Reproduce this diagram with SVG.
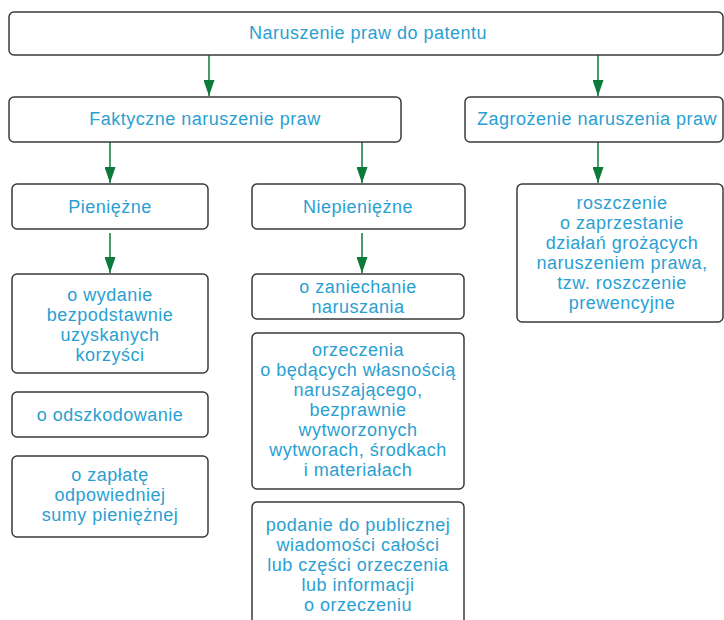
<svg xmlns="http://www.w3.org/2000/svg" width="724" height="620" viewBox="0 0 724 620">
<defs>
<style>
.box{fill:#fff;stroke:#3a3a3a;stroke-width:1.5}
.t{font-family:"Liberation Sans",Arial,sans-serif;font-size:18px;letter-spacing:0.5px;fill:#2a9fd2;text-anchor:middle}
.c{stroke:#0b7a3b;stroke-width:1.5;fill:none;marker-end:url(#ah)}
</style>
<marker id="ah" viewBox="0 0 16 11" refX="16" refY="5.5" markerWidth="16" markerHeight="11" markerUnits="userSpaceOnUse" orient="auto">
<path d="M0,0 L16,5.5 L0,11 z" fill="#0b7a3b"/>
</marker>
</defs>
<rect width="724" height="620" fill="#fff"/>
<g id="connectors">
<line class="c" x1="209" y1="55" x2="209" y2="96"/>
<line class="c" x1="598" y1="55" x2="598" y2="96"/>
<line class="c" x1="110" y1="142" x2="110" y2="183"/>
<line class="c" x1="362" y1="142" x2="362" y2="183"/>
<line class="c" x1="598" y1="142" x2="598" y2="183"/>
<line class="c" x1="110" y1="233" x2="110" y2="273"/>
<line class="c" x1="362" y1="233" x2="362" y2="273"/>
</g>
<g id="n-root">
<rect class="box" x="9" y="12" width="714" height="43" rx="5"/>
<text class="t" x="368" y="39">Naruszenie praw do patentu</text>
</g>
<g id="n-faktyczne">
<rect class="box" x="9" y="97" width="392" height="45" rx="5"/>
<text class="t" x="205" y="125">Faktyczne naruszenie praw</text>
</g>
<g id="n-zagrozenie">
<rect class="box" x="465" y="97" width="258" height="45" rx="5"/>
<text class="t" x="597" y="125">Zagrożenie naruszenia praw</text>
</g>
<g id="n-pieniezne">
<rect class="box" x="12" y="184" width="196" height="45" rx="5"/>
<text class="t" x="110" y="213">Pieniężne</text>
</g>
<g id="n-niepieniezne">
<rect class="box" x="252" y="184" width="213" height="45" rx="5"/>
<text class="t" x="358" y="213">Niepieniężne</text>
</g>
<g id="n-roszczenie">
<rect class="box" x="517" y="184" width="206" height="138" rx="5"/>
<text class="t" x="622" y="209">roszczenie</text>
<text class="t" x="622" y="229">o zaprzestanie</text>
<text class="t" x="622" y="249">działań grożących</text>
<text class="t" x="622" y="269">naruszeniem prawa,</text>
<text class="t" x="622" y="289">tzw. roszczenie</text>
<text class="t" x="622" y="309">prewencyjne</text>
</g>
<g id="n-wydanie">
<rect class="box" x="12" y="274" width="196" height="99" rx="5"/>
<text class="t" x="110" y="301">o wydanie</text>
<text class="t" x="110" y="321">bezpodstawnie</text>
<text class="t" x="110" y="341">uzyskanych</text>
<text class="t" x="110" y="361">korzyści</text>
</g>
<g id="n-odszkodowanie">
<rect class="box" x="12" y="392" width="196" height="45" rx="5"/>
<text class="t" x="110" y="421">o odszkodowanie</text>
</g>
<g id="n-zaplate">
<rect class="box" x="12" y="456" width="196" height="81" rx="5"/>
<text class="t" x="110" y="481">o zapłatę</text>
<text class="t" x="110" y="501">odpowiedniej</text>
<text class="t" x="110" y="521">sumy pieniężnej</text>
</g>
<g id="n-zaniechanie">
<rect class="box" x="252" y="274" width="212" height="45" rx="5"/>
<text class="t" x="358" y="293">o zaniechanie</text>
<text class="t" x="358" y="313">naruszania</text>
</g>
<g id="n-orzeczenia">
<rect class="box" x="252" y="333" width="212" height="156" rx="5"/>
<text class="t" x="358" y="356">orzeczenia</text>
<text class="t" x="358" y="376">o będących własnością</text>
<text class="t" x="358" y="396">naruszającego,</text>
<text class="t" x="358" y="416">bezprawnie</text>
<text class="t" x="358" y="436">wytworzonych</text>
<text class="t" x="358" y="456">wytworach, środkach</text>
<text class="t" x="358" y="476">i materiałach</text>
</g>
<g id="n-podanie">
<rect class="box" x="252" y="502" width="212" height="140" rx="5"/>
<text class="t" x="358" y="531">podanie do publicznej</text>
<text class="t" x="358" y="551">wiadomości całości</text>
<text class="t" x="358" y="571">lub części orzeczenia</text>
<text class="t" x="358" y="591">lub informacji</text>
<text class="t" x="358" y="611">o orzeczeniu</text>
</g>
</svg>
